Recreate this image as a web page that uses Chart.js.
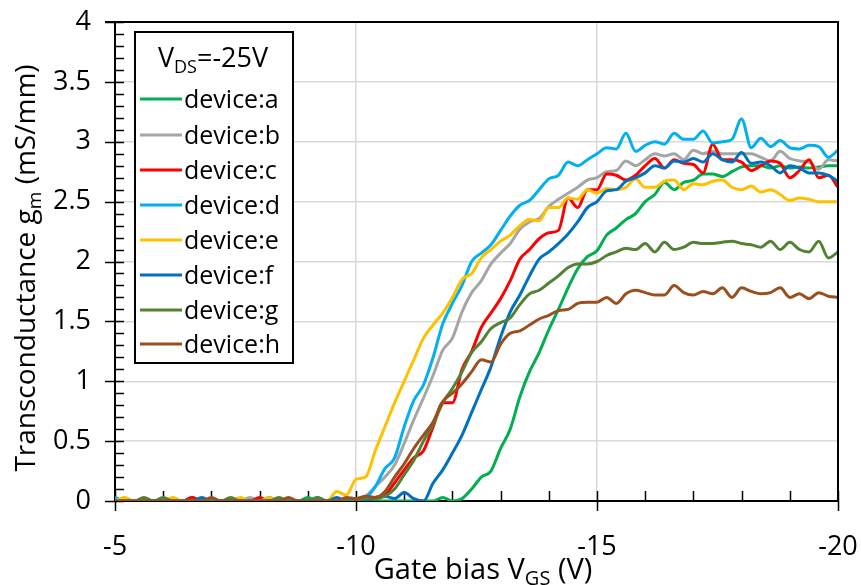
<!DOCTYPE html>
<html>
<head>
<meta charset="utf-8">
<script src="https://cdn.jsdelivr.net/npm/chart.js@4/dist/chart.umd.min.js"></script>
<style>
html,body{margin:0;padding:0;background:#fff;}
#wrap{width:861px;height:585px;position:relative;}
</style>
</head>
<body>
<div id="wrap"><canvas id="c" width="861" height="585"></canvas></div>
<script>
// Gate bias V_GS (V)
const vgs = [-5,-5.2,-5.4,-5.6,-5.8,-6,-6.2,-6.4,-6.6,-6.8,-7,-7.2,-7.4,-7.6,-7.8,-8,-8.2,-8.4,-8.6,-8.8,-9,-9.2,-9.4,-9.6,-9.8,
  -10,-10.2,-10.4,-10.6,-10.8,-11,-11.2,-11.4,-11.6,-11.8,-12,-12.2,-12.4,-12.6,-12.8,-13,-13.2,-13.4,-13.6,-13.8,
  -14,-14.2,-14.4,-14.6,-14.8,-15,-15.2,-15.4,-15.6,-15.8,-16,-16.2,-16.4,-16.6,-16.8,-17,-17.2,-17.4,-17.6,-17.8,
  -18,-18.2,-18.4,-18.6,-18.8,-19,-19.2,-19.4,-19.6,-19.8,-20];

// Transconductance g_m (mS/mm)
const deviceA = [0,0,0,0,0,0,0,0,0.03,0,0,0,0,0,0,0,0,0,0,0,0.03,0,0,0,0,
  0,0,0,0,0, 0,0,0,0,0.03, 0,0.02,0.1,0.2,0.25, 0.44,0.6,0.87,1.08,1.24, 1.43,1.6,1.78,1.94,2.04,
  2.09,2.22,2.28,2.35,2.4, 2.5,2.56,2.66,2.6,2.66, 2.68,2.73,2.73,2.71,2.75, 2.79,2.8,2.8,2.78,2.8,
  2.78,2.79,2.78,2.79,2.8, 2.8];
const deviceB = [0,0,0,0,0,0,0,0,0,0,0,0,0,0,0.03,0,0,0,0,0,0,0,0,0,0,
  0.01,0.04,0.12,0.2,0.3, 0.48,0.68,0.86,1.05,1.26, 1.36,1.58,1.74,1.84,1.98, 2.07,2.15,2.27,2.33,2.36,
  2.46,2.52,2.57,2.62,2.68, 2.7,2.75,2.76,2.84,2.8, 2.85,2.9,2.88,2.9,2.85, 2.93,2.9,2.92,2.9,2.9,
  2.9,2.9,2.87,2.84,2.92, 2.86,2.84,2.83,2.77,2.85, 2.84];
const deviceC = [0,0,0,0,0,0,0,0,0.03,0,0,0,0,0,0,0.03,0,0,0,0,0,0,0,0,0,
  0,0,0.03,0.05,0.15, 0.26,0.36,0.42,0.62,0.82, 0.82,1.1,1.25,1.45,1.57, 1.69,1.84,2.02,2.1,2.19,
  2.24,2.26,2.53,2.45,2.6, 2.6,2.73,2.72,2.68,2.72, 2.8,2.86,2.78,2.85,2.82, 2.81,2.74,2.98,2.85,2.85,
  2.83,2.76,2.8,2.84,2.82, 2.7,2.76,2.85,2.7,2.72, 2.62];
const deviceD = [0.03,0,0,0,0,0,0,0,0,0,0,0,0,0,0,0,0.03,0,0,0,0,0.03,0,0,0,
  0.02,0.03,0.12,0.27,0.36, 0.62,0.84,0.97,1.2,1.48, 1.65,1.8,2.0,2.07,2.14, 2.26,2.38,2.47,2.51,2.6,
  2.69,2.72,2.83,2.8,2.85, 2.9,2.95,2.94,3.07,2.92, 2.97,3.0,2.98,3.07,3.02, 3.02,3.09,2.99,3.0,3.02,
  3.19,2.95,3.03,2.96,3.01, 2.95,2.94,2.97,2.96,2.87, 2.93];
const deviceE = [0,0.03,0,0,0,0,0.03,0,0,0,0,0,0,0.03,0,0,0.03,0,0,0,0,0,0,0.08,0.05,
  0.18,0.2,0.42,0.62,0.82, 1.0,1.18,1.36,1.47,1.57, 1.7,1.85,1.9,2.03,2.1, 2.17,2.22,2.3,2.35,2.34,
  2.45,2.45,2.53,2.52,2.6, 2.57,2.61,2.6,2.62,2.69, 2.62,2.62,2.67,2.68,2.6, 2.65,2.64,2.67,2.68,2.62,
  2.6,2.63,2.58,2.6,2.56, 2.51,2.53,2.52,2.5,2.5, 2.5];
const deviceF = [0,0,0,0,0,0,0,0,0,0.03,0,0,0,0,0,0,0,0,0,0,0,0,0,0.03,0,
  0,0,0.02,0.04,0.02, 0.07,0.02,0,0.15,0.26, 0.4,0.55,0.74,0.93,1.12, 1.37,1.58,1.72,1.88,2.02,
  2.08,2.15,2.23,2.33,2.45, 2.5,2.59,2.6,2.67,2.7, 2.74,2.8,2.78,2.84,2.83, 2.86,2.83,2.9,2.85,2.83,
  2.91,2.82,2.83,2.8,2.74, 2.8,2.78,2.74,2.74,2.72, 2.67];
const deviceG = [0,0,0,0.03,0,0.03,0,0,0,0,0,0,0.03,0,0,0,0,0.03,0,0,0,0.03,0,0,0,
  0,0.02,0.02,0.04,0.1, 0.22,0.34,0.5,0.64,0.82, 0.94,1.08,1.24,1.33,1.44, 1.49,1.53,1.64,1.73,1.76,
  1.82,1.88,1.95,1.98,1.98, 2.0,2.05,2.08,2.11,2.1, 2.15,2.08,2.16,2.1,2.12, 2.16,2.15,2.15,2.16,2.17,
  2.15,2.14,2.12,2.17,2.1, 2.16,2.1,2.08,2.17,2.03, 2.08];
const deviceH = [0,0,0,0,0,0,0,0,0,0,0.03,0,0,0,0,0,0,0,0.03,0,0,0,0,0,0.03,
  0.02,0.04,0.03,0.08,0.2, 0.31,0.44,0.55,0.66,0.83, 0.9,0.98,1.08,1.18,1.16, 1.31,1.4,1.42,1.47,1.52,
  1.55,1.59,1.6,1.65,1.66, 1.66,1.7,1.65,1.73,1.76, 1.74,1.72,1.72,1.8,1.74, 1.72,1.75,1.73,1.78,1.7,
  1.78,1.75,1.73,1.74,1.78, 1.7,1.73,1.69,1.74,1.71, 1.7];

const seriesNames = ['device:a','device:b','device:c','device:d','device:e','device:f','device:g','device:h'];
const seriesColors = ['#00B050','#A5A5A5','#FF0000','#00B0F0','#FFC000','#0070C0','#548235','#9A4F1E'];
const seriesValues = [deviceA,deviceB,deviceC,deviceD,deviceE,deviceF,deviceG,deviceH];

const xTicks = [-5,-10,-15,-20];
const yTicks = [0,0.5,1,1.5,2,2.5,3,3.5,4];
const legendTitle = [{t:'V'},{t:'DS',sub:true},{t:'=-25V'}];
const xTitle = [{t:'Gate bias V'},{t:'GS',sub:true},{t:' (V)'}];
const yTitle = [{t:'Transconductance g'},{t:'m',sub:true},{t:' (mS/mm)'}];

const FONT = "'Open Sans', sans-serif";

function drawRich(ctx, parts, x, y, size, align) {
  let total = 0;
  const ws = parts.map(p => {
    ctx.font = (p.sub ? Math.round(size*0.68) : size) + 'px ' + FONT;
    const w = ctx.measureText(p.t).width;
    total += w;
    return w;
  });
  let cx = align === 'center' ? x - total/2 : x;
  ctx.textAlign = 'left';
  ctx.textBaseline = 'alphabetic';
  parts.forEach((p, i) => {
    ctx.font = (p.sub ? Math.round(size*0.68) : size) + 'px ' + FONT;
    ctx.fillText(p.t, cx, p.sub ? y + size*0.22 : y);
    cx += ws[i];
  });
}

const decor = {
  id: 'decor',
  beforeDatasetsDraw(chart) {
    const ctx = chart.ctx, a = chart.chartArea;
    const xs = chart.scales.x, ys = chart.scales.y;
    ctx.save();
    ctx.strokeStyle = '#000';
    ctx.lineWidth = 1.5;
    ctx.beginPath();
    for (let k = 0; k <= 40; k++) {
      const py = Math.round(ys.getPixelForValue(k/10)) + 0.5;
      const major = k % 5 === 0;
      ctx.moveTo(major ? a.left - 10 : a.left, py);
      ctx.lineTo(a.left + 9, py);
    }
    for (let k = 5; k <= 20; k++) {
      const px = Math.round(xs.getPixelForValue(-k)) + 0.5;
      const major = k % 5 === 0;
      ctx.moveTo(px, a.bottom - 10);
      ctx.lineTo(px, major ? a.bottom + 10 : a.bottom);
    }
    ctx.stroke();
    ctx.restore();
  },
  afterDatasetsDraw(chart) {
    const ctx = chart.ctx, a = chart.chartArea;
    ctx.save();
    ctx.strokeStyle = '#000';
    ctx.lineWidth = 2;
    ctx.beginPath();
    ctx.moveTo(a.left - 10, a.top);
    ctx.lineTo(a.right, a.top);
    ctx.lineTo(a.right, a.bottom);
    ctx.stroke();
    ctx.restore();
  },
  afterDraw(chart) {
    const ctx = chart.ctx, a = chart.chartArea;
    ctx.save();
    ctx.fillStyle = '#000';
    // axis titles
    drawRich(ctx, xTitle, 483, 579, 29, 'center');
    ctx.save();
    ctx.translate(35, 268);
    ctx.rotate(-Math.PI/2);
    drawRich(ctx, yTitle, 0, 0, 28, 'center');
    ctx.restore();
    // legend
    const lx = 135, ly = 32, lw = 158, lh = 331;
    ctx.fillStyle = '#fff';
    ctx.fillRect(lx, ly, lw, lh);
    ctx.strokeStyle = '#000';
    ctx.lineWidth = 2;
    ctx.strokeRect(lx, ly, lw, lh);
    ctx.fillStyle = '#000';
    drawRich(ctx, legendTitle, 213, 67, 27, 'center');
    const rows = [99,135,170,205,240,275,310,344];
    chart.data.datasets.forEach((ds, i) => {
      const y = rows[i];
      ctx.strokeStyle = ds.borderColor;
      ctx.lineWidth = 3;
      ctx.beginPath();
      ctx.moveTo(140, y);
      ctx.lineTo(182, y);
      ctx.stroke();
      ctx.fillStyle = '#000';
      ctx.font = '25px ' + FONT;
      ctx.textAlign = 'left';
      ctx.textBaseline = 'alphabetic';
      ctx.fillText(ds.label, 184, y + 9);
    });
    ctx.restore();
  }
};

const datasets = seriesNames.map((name, i) => ({
  label: name,
  data: vgs.map((v, j) => ({x: v, y: seriesValues[i][j]})),
  borderColor: seriesColors[i],
  backgroundColor: seriesColors[i],
  borderWidth: 3,
  pointRadius: 0,
  fill: false,
  cubicInterpolationMode: 'monotone',
  order: 7 - i
}));

new Chart(document.getElementById('c'), {
  type: 'line',
  data: { datasets },
  options: {
    responsive: false,
    animation: false,
    devicePixelRatio: 1,
    layout: { padding: { left: 0, right: 23, top: 22, bottom: 0 } },
    plugins: { legend: { display: false }, tooltip: { enabled: false } },
    scales: {
      x: {
        type: 'linear',
        reverse: true,
        min: -20,
        max: -5,
        afterBuildTicks: s => { s.ticks = xTicks.map(v => ({value: v})); },
        afterFit: s => { s.height = 84; s.paddingLeft = 0; s.paddingRight = 0; },
        ticks: {
          font: { family: FONT, size: 27 },
          color: '#000',
          padding: 30,
          maxRotation: 0,
          autoSkip: false,
          callback: v => String(v)
        },
        grid: {
          color: c => (c.tick && (c.tick.value === -5 || c.tick.value === -20)) ? 'rgba(0,0,0,0)' : '#D9D9D9',
          lineWidth: 1.5,
          drawTicks: false
        },
        border: { display: true, color: '#000', width: 2 }
      },
      y: {
        type: 'linear',
        min: 0,
        max: 4,
        afterBuildTicks: s => { s.ticks = yTicks.map(v => ({value: v})); },
        afterFit: s => { s.width = 115; s.paddingTop = 0; s.paddingBottom = 0; },
        ticks: {
          font: { family: FONT, size: 27 },
          color: '#000',
          padding: 24,
          autoSkip: false,
          callback: v => String(v)
        },
        grid: { color: '#D9D9D9', lineWidth: 1.5, drawTicks: false },
        border: { display: true, color: '#000', width: 2 }
      }
    }
  },
  plugins: [decor]
});
</script>
</body>
</html>
